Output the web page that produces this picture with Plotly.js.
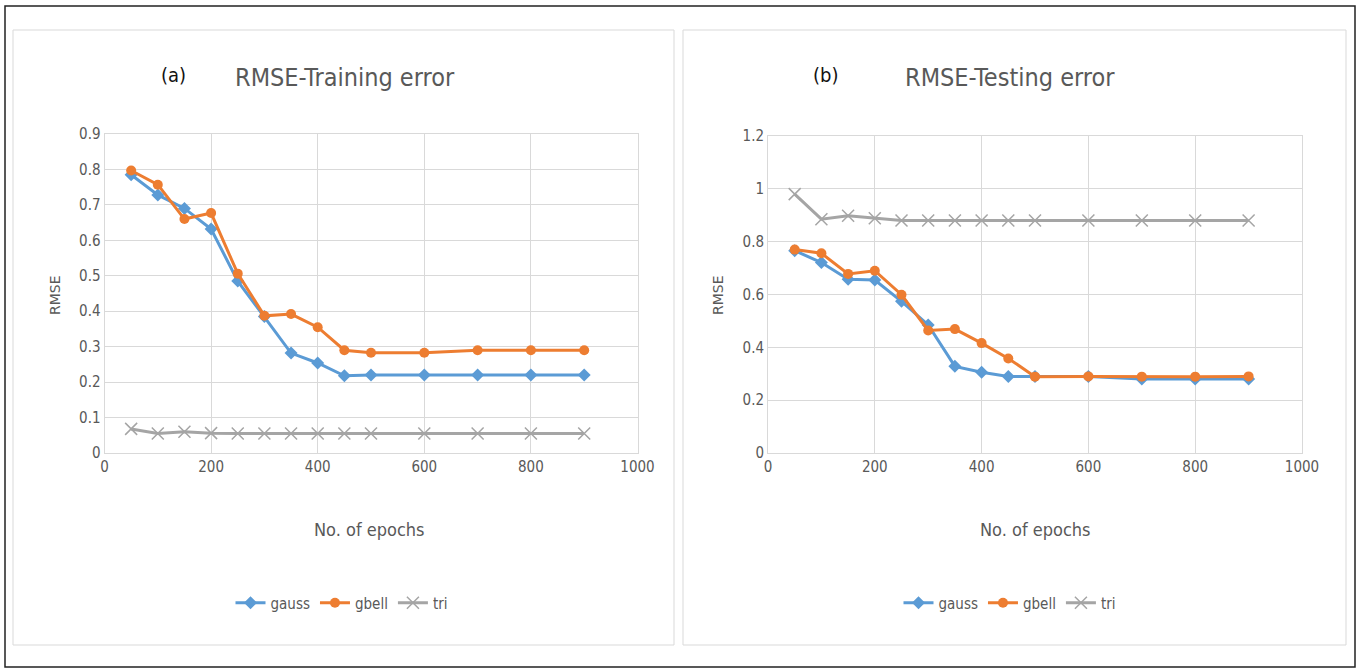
<!DOCTYPE html>
<html>
<head>
<meta charset="utf-8">
<script src="https://cdn.plot.ly/plotly-3.0.1.min.js"></script>
<style>html,body{margin:0;padding:0;background:#fff;}#chart{width:1358px;height:671px;}</style>
</head>
<body>
<div id="chart"></div>
<script>
const epochs = [50,100,150,200,250,300,350,400,450,500,600,700,800,900];
const trainGauss = [0.785,0.728,0.69,0.632,0.485,0.385,0.282,0.254,0.218,0.22,0.22,0.22,0.22,0.22];
const trainGbell = [0.797,0.757,0.66,0.677,0.506,0.387,0.392,0.355,0.29,0.283,0.283,0.29,0.29,0.29];
const trainTri   = [0.068,0.055,0.06,0.056,0.055,0.055,0.055,0.055,0.055,0.055,0.055,0.055,0.055,0.055];
const testGauss  = [0.766,0.721,0.658,0.655,0.574,0.485,0.328,0.306,0.29,0.29,0.29,0.28,0.28,0.28];
const testGbell  = [0.77,0.756,0.678,0.69,0.599,0.464,0.469,0.416,0.358,0.289,0.29,0.289,0.289,0.29];
const testTri    = [0.98,0.885,0.898,0.889,0.88,0.88,0.88,0.88,0.88,0.88,0.88,0.88,0.88,0.88];
const seriesNames = ['gauss','gbell','tri'];
const xTicks = [0,200,400,600,800,1000];

const W = 1358, H = 671;
const px = x => x / W;
const py = y => (H - y) / H;
const FONT = '"Liberation Sans Narrow", "Arial Narrow", "DejaVu Sans Condensed", sans-serif';
const TXT = '#595959';
const colors = ['#5B9BD5', '#ED7D31', '#A5A5A5'];
const symbols = ['diamond', 'circle', 'x-thin-open'];

function mk(y, i, xa, ya, leg) {
  return {
    x: epochs, y: y, name: seriesNames[i], type: 'scatter', mode: 'lines+markers',
    xaxis: xa, yaxis: ya, legend: leg, showlegend: true,
    line: {color: colors[i], width: 3},
    marker: {color: colors[i], symbol: symbols[i], size: i === 2 ? 12 : (i === 1 ? 10 : 10),
             line: {color: colors[i], width: i === 2 ? 1.5 : 0}}
  };
}

const traces = [
  mk(trainGauss, 0, 'x', 'y', 'legend'),
  mk(trainGbell, 1, 'x', 'y', 'legend'),
  mk(trainTri, 2, 'x', 'y', 'legend'),
  mk(testGauss, 0, 'x2', 'y2', 'legend2'),
  mk(testGbell, 1, 'x2', 'y2', 'legend2'),
  mk(testTri, 2, 'x2', 'y2', 'legend2')
];

const axBase = {
  showgrid: true, gridcolor: '#d9d9d9', gridwidth: 1,
  zeroline: false, showline: true, linecolor: '#d9d9d9', linewidth: 1, mirror: true,
  ticks: '', tickfont: {family: FONT, size: 15, color: TXT}, fixedrange: true
};

function ann(text, x, y, size, color, extra) {
  return Object.assign({text: text, xref: 'paper', yref: 'paper', x: px(x), y: py(y),
    xanchor: 'center', yanchor: 'middle', showarrow: false,
    font: {family: FONT, size: size, color: color}}, extra || {});
}

const layout = {
  width: W, height: H,
  margin: {l: 0, r: 0, t: 0, b: 0},
  paper_bgcolor: '#ffffff', plot_bgcolor: '#ffffff',
  font: {family: FONT, color: TXT},
  xaxis: Object.assign({}, axBase, {domain: [px(104.5), px(637.5)], range: [0, 1000], tickvals: xTicks, anchor: 'y'}),
  yaxis: Object.assign({}, axBase, {domain: [py(453), py(134)], range: [0, 0.9], dtick: 0.1, anchor: 'x'}),
  xaxis2: Object.assign({}, axBase, {domain: [px(768), px(1302)], range: [0, 1000], tickvals: xTicks, anchor: 'y2'}),
  yaxis2: Object.assign({}, axBase, {domain: [py(453), py(136)], range: [0, 1.2], dtick: 0.2, anchor: 'x2'}),
  legend: {orientation: 'h', x: px(342), y: py(603), xanchor: 'center', yanchor: 'middle',
           font: {family: FONT, size: 15, color: TXT}, bgcolor: 'rgba(0,0,0,0)'},
  legend2: {orientation: 'h', x: px(1010), y: py(603), xanchor: 'center', yanchor: 'middle',
           font: {family: FONT, size: 15, color: TXT}, bgcolor: 'rgba(0,0,0,0)'},
  shapes: [
    {type: 'rect', xref: 'paper', yref: 'paper', x0: px(5), x1: px(1355), y0: py(667), y1: py(6),
     line: {color: '#222', width: 1.5}, fillcolor: 'rgba(0,0,0,0)', layer: 'below'},
    {type: 'rect', xref: 'paper', yref: 'paper', x0: px(13), x1: px(674), y0: py(645), y1: py(30),
     line: {color: '#d9d9d9', width: 1}, fillcolor: 'rgba(0,0,0,0)', layer: 'below'},
    {type: 'rect', xref: 'paper', yref: 'paper', x0: px(683), x1: px(1346), y0: py(645), y1: py(30),
     line: {color: '#d9d9d9', width: 1}, fillcolor: 'rgba(0,0,0,0)', layer: 'below'}
  ],
  annotations: [
    ann('(a)', 173, 75, 20, '#111'),
    ann('RMSE-Training error', 345, 77, 25, TXT),
    ann('(b)', 826, 75, 20, '#111'),
    ann('RMSE-Testing error', 1010, 77, 25, TXT),
    ann('RMSE', 55, 295, 14, TXT, {textangle: -90}),
    ann('RMSE', 718, 295, 14, TXT, {textangle: -90}),
    ann('No. of epochs', 370, 529, 18, TXT),
    ann('No. of epochs', 1035, 529, 18, TXT)
  ]
};
layout.annotations[4].font.family = 'DejaVu Sans, sans-serif';
layout.annotations[5].font.family = 'DejaVu Sans, sans-serif';

Plotly.newPlot('chart', traces, layout, {displayModeBar: false, staticPlot: true});
</script>
</body>
</html>
